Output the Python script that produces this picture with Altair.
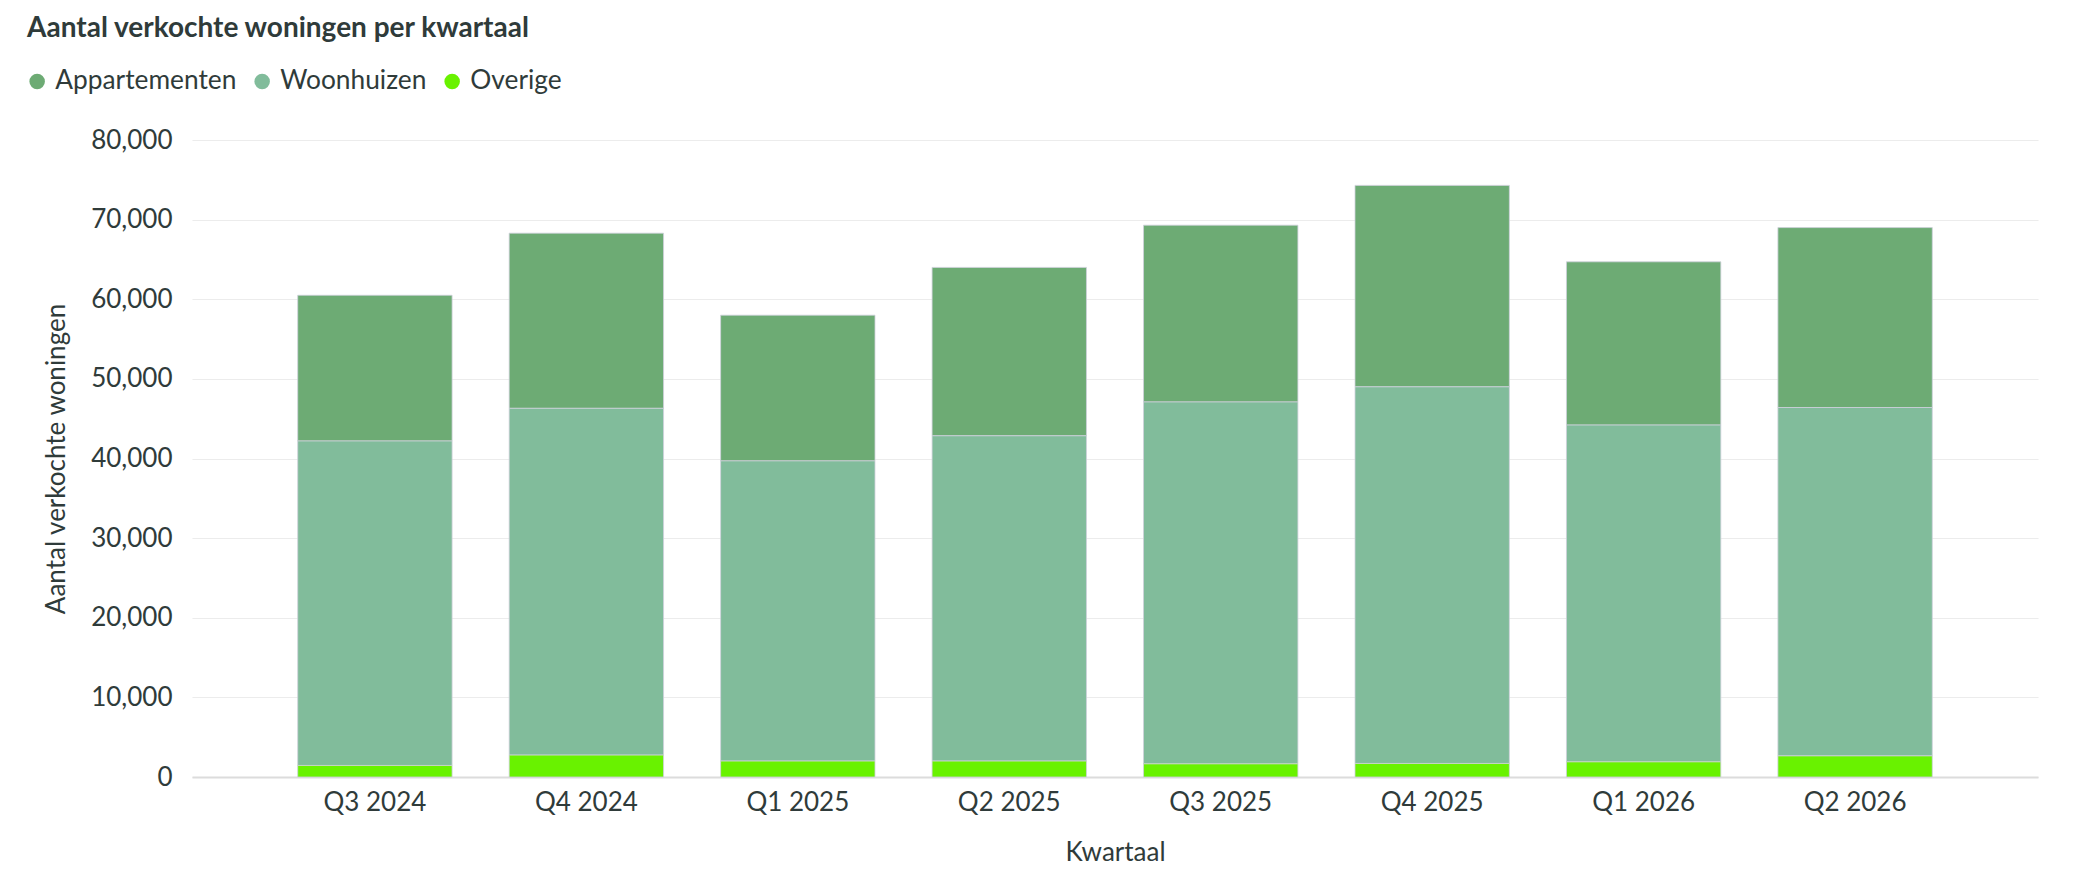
import altair as alt
import pandas as pd

quarters = ["Q3 2024", "Q4 2024", "Q1 2025", "Q2 2025", "Q3 2025", "Q4 2025", "Q1 2026", "Q2 2026"]
appartementen = [18300, 22000, 18300, 21150, 22200, 25300, 20500, 22600]
woonhuizen = [40750, 43550, 37700, 40850, 45450, 47300, 42300, 43750]
overige = [1450, 2750, 2000, 2000, 1650, 1700, 1900, 2650]

series_names = ["Appartementen", "Woonhuizen", "Overige"]
series_colors = ["#6dab74", "#81bc9b", "#69f200"]
stack_order = {"Overige": 0, "Woonhuizen": 1, "Appartementen": 2}
y_ticks = [0, 10000, 20000, 30000, 40000, 50000, 60000, 70000, 80000]

rows = []
for name, vals in zip(series_names, [appartementen, woonhuizen, overige]):
    for q, v in zip(quarters, vals):
        rows.append({"Kwartaal": q, "Type": name, "Aantal": v, "ord": stack_order[name]})
df = pd.DataFrame(rows)

FONT = "Lato"
TXT = "#2f3b3a"

chart = alt.Chart(df).mark_bar(stroke="#cfd0dc", strokeWidth=0.8).encode(
    x=alt.X("Kwartaal:N", sort=quarters,
            scale=alt.Scale(paddingInner=0.27, paddingOuter=0.5),
            axis=alt.Axis(title="Kwartaal", labelAngle=0, ticks=False, tickSize=0,
                          labelPadding=12, titlePadding=24, grid=False,
                          domainColor="#dcdcdc", domainWidth=2)),
    y=alt.Y("sum(Aantal):Q", stack="zero",
            scale=alt.Scale(domain=[0, 80000], nice=False),
            axis=alt.Axis(title="Aantal verkochte woningen", values=y_ticks, format=",d",
                          ticks=False, tickSize=0, domain=False, labelPadding=20,
                          titlePadding=21, gridColor="#ececec", gridWidth=1.2)),
    color=alt.Color("Type:N",
                    scale=alt.Scale(domain=series_names, range=series_colors),
                    legend=alt.Legend(title=None, orient="none", direction="horizontal",
                                      legendX=-168, legendY=-72, symbolType="circle",
                                      symbolSize=240, symbolStrokeWidth=0, labelOffset=5,
                                      columnPadding=12, padding=0, labelFontSize=26.3,
                                      labelLimit=0, labelFont=FONT, labelColor=TXT)),
    order=alt.Order("ord:Q", sort="ascending"),
    tooltip=["Kwartaal", "Type", "Aantal"],
).properties(
    width=1846,
    height=637,
    title=alt.TitleParams("Aantal verkochte woningen per kwartaal", anchor="start",
                          frame="group", dx=-165, dy=31, fontSize=28, fontWeight="bold",
                          font=FONT, color=TXT, offset=34, baseline="alphabetic"),
    autosize=alt.AutoSizeParams(type="none"),
    padding={"left": 184, "top": 132, "right": 30, "bottom": 100},
).configure_axis(
    labelFont=FONT, titleFont=FONT, labelFontSize=26, titleFontSize=26,
    labelColor=TXT, titleColor=TXT, titleFontWeight="normal",
).configure_view(stroke=None)

chart.save("out.html", embed_options={"renderer": "svg", "actions": False})
